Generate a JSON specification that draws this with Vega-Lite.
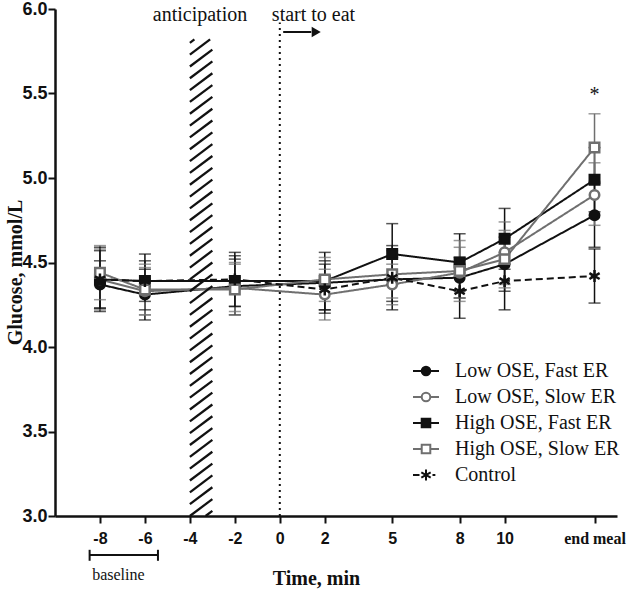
{
  "$schema": "https://vega.github.io/schema/vega-lite/v6.json",
  "width": 562,
  "height": 507,
  "autosize": "none",
  "padding": {"left": 55, "top": 9, "right": 15, "bottom": 73},
  "background": "white",
  "config": {"view": {"stroke": null}, "axis": {"grid": false}},
  "datasets": {
    "glu": [
      {"t": -8, "s": "Low OSE, Fast ER", "m": 4.37, "lo": 4.23, "hi": 4.51},
      {"t": -8, "s": "Low OSE, Slow ER", "m": 4.40, "lo": 4.22, "hi": 4.58},
      {"t": -8, "s": "High OSE, Fast ER", "m": 4.40, "lo": 4.23, "hi": 4.57},
      {"t": -8, "s": "High OSE, Slow ER", "m": 4.44, "lo": 4.28, "hi": 4.60},
      {"t": -8, "s": "Control", "m": 4.40, "lo": 4.21, "hi": 4.59},
      {"t": -6, "s": "Low OSE, Fast ER", "m": 4.31, "lo": 4.16, "hi": 4.46},
      {"t": -6, "s": "Low OSE, Slow ER", "m": 4.33, "lo": 4.19, "hi": 4.47},
      {"t": -6, "s": "High OSE, Fast ER", "m": 4.39, "lo": 4.22, "hi": 4.55},
      {"t": -6, "s": "High OSE, Slow ER", "m": 4.34, "lo": 4.19, "hi": 4.49},
      {"t": -6, "s": "Control", "m": 4.39, "lo": 4.27, "hi": 4.51},
      {"t": -2, "s": "Low OSE, Fast ER", "m": 4.36, "lo": 4.19, "hi": 4.52},
      {"t": -2, "s": "Low OSE, Slow ER", "m": 4.35, "lo": 4.21, "hi": 4.50},
      {"t": -2, "s": "High OSE, Fast ER", "m": 4.39, "lo": 4.24, "hi": 4.54},
      {"t": -2, "s": "High OSE, Slow ER", "m": 4.34, "lo": 4.19, "hi": 4.49},
      {"t": -2, "s": "Control", "m": 4.40, "lo": 4.24, "hi": 4.56},
      {"t": 2, "s": "Low OSE, Fast ER", "m": 4.38, "lo": 4.22, "hi": 4.51},
      {"t": 2, "s": "Low OSE, Slow ER", "m": 4.31, "lo": 4.16, "hi": 4.46},
      {"t": 2, "s": "High OSE, Fast ER", "m": 4.39, "lo": 4.22, "hi": 4.56},
      {"t": 2, "s": "High OSE, Slow ER", "m": 4.40, "lo": 4.27, "hi": 4.53},
      {"t": 2, "s": "Control", "m": 4.34, "lo": 4.20, "hi": 4.49},
      {"t": 5, "s": "Low OSE, Fast ER", "m": 4.40, "lo": 4.27, "hi": 4.53},
      {"t": 5, "s": "Low OSE, Slow ER", "m": 4.37, "lo": 4.25, "hi": 4.49},
      {"t": 5, "s": "High OSE, Fast ER", "m": 4.55, "lo": 4.37, "hi": 4.73},
      {"t": 5, "s": "High OSE, Slow ER", "m": 4.43, "lo": 4.29, "hi": 4.57},
      {"t": 5, "s": "Control", "m": 4.41, "lo": 4.22, "hi": 4.60},
      {"t": 8, "s": "Low OSE, Fast ER", "m": 4.41, "lo": 4.29, "hi": 4.53},
      {"t": 8, "s": "Low OSE, Slow ER", "m": 4.44, "lo": 4.29, "hi": 4.59},
      {"t": 8, "s": "High OSE, Fast ER", "m": 4.50, "lo": 4.33, "hi": 4.67},
      {"t": 8, "s": "High OSE, Slow ER", "m": 4.45, "lo": 4.27, "hi": 4.63},
      {"t": 8, "s": "Control", "m": 4.33, "lo": 4.17, "hi": 4.49},
      {"t": 10, "s": "Low OSE, Fast ER", "m": 4.49, "lo": 4.33, "hi": 4.65},
      {"t": 10, "s": "Low OSE, Slow ER", "m": 4.56, "lo": 4.37, "hi": 4.74},
      {"t": 10, "s": "High OSE, Fast ER", "m": 4.64, "lo": 4.46, "hi": 4.82},
      {"t": 10, "s": "High OSE, Slow ER", "m": 4.52, "lo": 4.35, "hi": 4.69},
      {"t": 10, "s": "Control", "m": 4.39, "lo": 4.22, "hi": 4.56},
      {"t": 14, "s": "Low OSE, Fast ER", "m": 4.78, "lo": 4.59, "hi": 4.97},
      {"t": 14, "s": "Low OSE, Slow ER", "m": 4.90, "lo": 4.72, "hi": 5.09},
      {"t": 14, "s": "High OSE, Fast ER", "m": 4.99, "lo": 4.80, "hi": 5.18},
      {"t": 14, "s": "High OSE, Slow ER", "m": 5.18, "lo": 4.98, "hi": 5.38},
      {"t": 14, "s": "Control", "m": 4.42, "lo": 4.26, "hi": 4.58}
    ],
    "hatch": [
      {"x1": -3.3, "y1": 3.0, "x2": -3, "y2": 3.03},
      {"x1": -4, "y1": 3.00, "x2": -3, "y2": 3.10},
      {"x1": -4, "y1": 3.07, "x2": -3, "y2": 3.17},
      {"x1": -4, "y1": 3.14, "x2": -3, "y2": 3.24},
      {"x1": -4, "y1": 3.21, "x2": -3, "y2": 3.31},
      {"x1": -4, "y1": 3.28, "x2": -3, "y2": 3.38},
      {"x1": -4, "y1": 3.35, "x2": -3, "y2": 3.45},
      {"x1": -4, "y1": 3.42, "x2": -3, "y2": 3.52},
      {"x1": -4, "y1": 3.49, "x2": -3, "y2": 3.59},
      {"x1": -4, "y1": 3.56, "x2": -3, "y2": 3.66},
      {"x1": -4, "y1": 3.63, "x2": -3, "y2": 3.73},
      {"x1": -4, "y1": 3.70, "x2": -3, "y2": 3.80},
      {"x1": -4, "y1": 3.77, "x2": -3, "y2": 3.87},
      {"x1": -4, "y1": 3.84, "x2": -3, "y2": 3.94},
      {"x1": -4, "y1": 3.91, "x2": -3, "y2": 4.01},
      {"x1": -4, "y1": 3.98, "x2": -3, "y2": 4.08},
      {"x1": -4, "y1": 4.05, "x2": -3, "y2": 4.15},
      {"x1": -4, "y1": 4.12, "x2": -3, "y2": 4.22},
      {"x1": -4, "y1": 4.19, "x2": -3, "y2": 4.29},
      {"x1": -4, "y1": 4.26, "x2": -3, "y2": 4.36},
      {"x1": -4, "y1": 4.33, "x2": -3, "y2": 4.43},
      {"x1": -4, "y1": 4.40, "x2": -3, "y2": 4.50},
      {"x1": -4, "y1": 4.47, "x2": -3, "y2": 4.57},
      {"x1": -4, "y1": 4.54, "x2": -3, "y2": 4.64},
      {"x1": -4, "y1": 4.61, "x2": -3, "y2": 4.71},
      {"x1": -4, "y1": 4.68, "x2": -3, "y2": 4.78},
      {"x1": -4, "y1": 4.75, "x2": -3, "y2": 4.85},
      {"x1": -4, "y1": 4.82, "x2": -3, "y2": 4.92},
      {"x1": -4, "y1": 4.89, "x2": -3, "y2": 4.99},
      {"x1": -4, "y1": 4.96, "x2": -3, "y2": 5.06},
      {"x1": -4, "y1": 5.03, "x2": -3, "y2": 5.13},
      {"x1": -4, "y1": 5.10, "x2": -3, "y2": 5.20},
      {"x1": -4, "y1": 5.17, "x2": -3, "y2": 5.27},
      {"x1": -4, "y1": 5.24, "x2": -3, "y2": 5.34},
      {"x1": -4, "y1": 5.31, "x2": -3, "y2": 5.41},
      {"x1": -4, "y1": 5.38, "x2": -3, "y2": 5.48},
      {"x1": -4, "y1": 5.45, "x2": -3, "y2": 5.55},
      {"x1": -4, "y1": 5.52, "x2": -3, "y2": 5.62},
      {"x1": -4, "y1": 5.59, "x2": -3, "y2": 5.69},
      {"x1": -4, "y1": 5.66, "x2": -3, "y2": 5.76},
      {"x1": -4, "y1": 5.73, "x2": -3.1, "y2": 5.82},
      {"x1": -4, "y1": 5.80, "x2": -3.8, "y2": 5.82}
    ],
    "bracket": [
      {"x1": -8.46, "x2": -5.42, "y1": 2.769, "y2": 2.769},
      {"x1": -8.46, "x2": -8.46, "y1": 2.735, "y2": 2.80},
      {"x1": -5.42, "x2": -5.42, "y1": 2.735, "y2": 2.80},
      {"x1": 0.15, "x2": 1.4, "y1": 5.864, "y2": 5.864}
    ],
    "dotted": [{"x": 0, "y1": 3.0, "y2": 5.92}],
    "arrowhead": [{"x": 1.62, "y": 5.864}],
    "notes": [
      {"x": -3.55, "y": 5.962, "txt": "anticipation"},
      {"x": 1.5, "y": 5.962, "txt": "start to eat"},
      {"x": 14, "y": 5.49, "txt": "*"}
    ],
    "small": [{"x": -7.18, "y": 2.651, "txt": "baseline"}]
  },
  "layer": [
    {
      "data": {"name": "glu"},
      "mark": {"type": "line", "strokeWidth": 2},
      "encoding": {
        "x": {"field": "t", "type": "quantitative", "scale": {"domain": [-10, 15], "nice": false, "zero": false},
          "axis": {"values": [-8, -6, -4, -2, 0, 2, 5, 8, 10, 14],
            "labelExpr": "datum.value == 14 ? 'end meal' : '' + datum.value",
            "domainColor": "#111", "domainWidth": 2.5, "tickColor": "#111", "tickWidth": 2, "tickSize": 7,
            "labelFont": {"condition": {"test": "datum.value == 14", "value": "Liberation Serif"}, "value": "Liberation Sans"},
            "labelFontSize": {"condition": {"test": "datum.value == 14", "value": 16}, "value": 16},
            "labelFontWeight": "bold", "labelColor": "#111", "labelPadding": 7,
            "title": "Time, min", "titleFont": "Liberation Serif", "titleFontWeight": "bold", "titleFontSize": 20, "titleColor": "#111",
            "titleX": 261, "titleY": 62, "titleAlign": "center", "titleBaseline": "middle"}},
        "y": {"field": "m", "type": "quantitative", "scale": {"domain": [3, 6], "nice": false, "zero": false},
          "axis": {"values": [3, 3.5, 4, 4.5, 5, 5.5, 6], "format": ".1f",
            "domainColor": "#111", "domainWidth": 2.5, "tickColor": "#111", "tickWidth": 2, "tickSize": 7,
            "labelFont": "Liberation Sans", "labelFontSize": 18, "labelFontWeight": "bold", "labelColor": "#111", "labelPadding": 1,
            "title": "Glucose, mmol/L", "titleFont": "Liberation Serif", "titleFontWeight": "bold", "titleFontSize": 20, "titleColor": "#111",
            "titleX": -40, "titleY": 263, "titleAlign": "center", "titleBaseline": "middle"}},
        "color": {"field": "s", "type": "nominal", "legend": null, "scale": {"domain": ["Low OSE, Fast ER", "Low OSE, Slow ER", "High OSE, Fast ER", "High OSE, Slow ER", "Control"], "range": ["#111111", "#6f6f6f", "#111111", "#6f6f6f", "#111111"]}},
        "strokeDash": {"field": "s", "type": "nominal", "legend": null, "scale": {"domain": ["Low OSE, Fast ER", "Low OSE, Slow ER", "High OSE, Fast ER", "High OSE, Slow ER", "Control"], "range": [[1, 0], [1, 0], [1, 0], [1, 0], [7, 4]]}}
      }
    },
    {
      "data": {"name": "hatch"},
      "mark": {"type": "rule", "color": "#111", "strokeWidth": 2.3},
      "encoding": {
        "x": {"field": "x1", "type": "quantitative", "scale": {"domain": [-10, 15], "nice": false, "zero": false}},
        "x2": {"field": "x2"},
        "y": {"field": "y1", "type": "quantitative", "scale": {"domain": [3, 6], "nice": false, "zero": false}},
        "y2": {"field": "y2"}
      }
    },
    {
      "data": {"name": "dotted"},
      "mark": {"type": "rule", "color": "#111", "strokeWidth": 2, "strokeDash": [2, 4]},
      "encoding": {
        "x": {"field": "x", "type": "quantitative", "scale": {"domain": [-10, 15], "nice": false, "zero": false}},
        "y": {"field": "y1", "type": "quantitative", "scale": {"domain": [3, 6], "nice": false, "zero": false}},
        "y2": {"field": "y2"}
      }
    },
    {
      "data": {"name": "bracket"},
      "mark": {"type": "rule", "color": "#111", "strokeWidth": 2},
      "encoding": {
        "x": {"field": "x1", "type": "quantitative", "scale": {"domain": [-10, 15], "nice": false, "zero": false}},
        "x2": {"field": "x2"},
        "y": {"field": "y1", "type": "quantitative", "scale": {"domain": [3, 6], "nice": false, "zero": false}},
        "y2": {"field": "y2"}
      }
    },
    {
      "data": {"name": "arrowhead"},
      "mark": {"type": "point", "shape": "triangle-right", "filled": true, "color": "#111", "size": 110, "opacity": 1},
      "encoding": {
        "x": {"field": "x", "type": "quantitative", "scale": {"domain": [-10, 15], "nice": false, "zero": false}},
        "y": {"field": "y", "type": "quantitative", "scale": {"domain": [3, 6], "nice": false, "zero": false}}
      }
    },
    {
      "data": {"name": "notes"},
      "mark": {"type": "text", "font": "Liberation Serif", "fontSize": 20, "color": "#111", "align": "center", "baseline": "middle"},
      "encoding": {
        "x": {"field": "x", "type": "quantitative", "scale": {"domain": [-10, 15], "nice": false, "zero": false}},
        "y": {"field": "y", "type": "quantitative", "scale": {"domain": [3, 6], "nice": false, "zero": false}},
        "text": {"field": "txt"}
      }
    },
    {
      "data": {"name": "small"},
      "mark": {"type": "text", "font": "Liberation Serif", "fontSize": 16, "color": "#111", "align": "center", "baseline": "middle"},
      "encoding": {
        "x": {"field": "x", "type": "quantitative", "scale": {"domain": [-10, 15], "nice": false, "zero": false}},
        "y": {"field": "y", "type": "quantitative", "scale": {"domain": [3, 6], "nice": false, "zero": false}},
        "text": {"field": "txt"}
      }
    },
    {
      "data": {"name": "glu"},
      "mark": {"type": "rule", "strokeWidth": 1.5},
      "encoding": {
        "x": {"field": "t", "type": "quantitative", "scale": {"domain": [-10, 15], "nice": false, "zero": false}},
        "y": {"field": "lo", "type": "quantitative", "scale": {"domain": [3, 6], "nice": false, "zero": false}},
        "y2": {"field": "hi"},
        "color": {"field": "s", "type": "nominal", "legend": null, "scale": {"domain": ["Low OSE, Fast ER", "Low OSE, Slow ER", "High OSE, Fast ER", "High OSE, Slow ER", "Control"], "range": ["#111111", "#6f6f6f", "#111111", "#6f6f6f", "#111111"]}}
      }
    },
    {
      "data": {"name": "glu"},
      "mark": {"type": "tick", "orient": "horizontal", "size": 12, "thickness": 1.5},
      "encoding": {
        "x": {"field": "t", "type": "quantitative", "scale": {"domain": [-10, 15], "nice": false, "zero": false}},
        "y": {"field": "lo", "type": "quantitative", "scale": {"domain": [3, 6], "nice": false, "zero": false}},
        "color": {"field": "s", "type": "nominal", "legend": null, "scale": {"domain": ["Low OSE, Fast ER", "Low OSE, Slow ER", "High OSE, Fast ER", "High OSE, Slow ER", "Control"], "range": ["#111111", "#6f6f6f", "#111111", "#6f6f6f", "#111111"]}}
      }
    },
    {
      "data": {"name": "glu"},
      "mark": {"type": "tick", "orient": "horizontal", "size": 12, "thickness": 1.5},
      "encoding": {
        "x": {"field": "t", "type": "quantitative", "scale": {"domain": [-10, 15], "nice": false, "zero": false}},
        "y": {"field": "hi", "type": "quantitative", "scale": {"domain": [3, 6], "nice": false, "zero": false}},
        "color": {"field": "s", "type": "nominal", "legend": null, "scale": {"domain": ["Low OSE, Fast ER", "Low OSE, Slow ER", "High OSE, Fast ER", "High OSE, Slow ER", "Control"], "range": ["#111111", "#6f6f6f", "#111111", "#6f6f6f", "#111111"]}}
      }
    },
    {
      "data": {"name": "glu"},
      "mark": {"type": "point", "size": 90, "strokeWidth": 2.5, "opacity": 1},
      "encoding": {
        "x": {"field": "t", "type": "quantitative", "scale": {"domain": [-10, 15], "nice": false, "zero": false}},
        "y": {"field": "m", "type": "quantitative", "scale": {"domain": [3, 6], "nice": false, "zero": false}},
        "shape": {"field": "s", "type": "nominal", "legend": null, "scale": {"domain": ["Low OSE, Fast ER", "Low OSE, Slow ER", "High OSE, Fast ER", "High OSE, Slow ER", "Control"], "range": ["circle", "circle", "square", "square", "M0,-1.25V1.25M-1.08,-0.62L1.08,0.62M-1.08,0.62L1.08,-0.62"]}},
        "stroke": {"field": "s", "type": "nominal", "legend": null, "scale": {"domain": ["Low OSE, Fast ER", "Low OSE, Slow ER", "High OSE, Fast ER", "High OSE, Slow ER", "Control"], "range": ["#111111", "#6f6f6f", "#111111", "#6f6f6f", "#111111"]}},
        "fill": {"field": "s", "type": "nominal", "legend": null, "scale": {"domain": ["Low OSE, Fast ER", "Low OSE, Slow ER", "High OSE, Fast ER", "High OSE, Slow ER", "Control"], "range": ["#111111", "#ffffff", "#111111", "#ffffff", "#111111"]}}
      }
    },
    {
      "data": {"name": "glu"},
      "mark": {"type": "point", "size": 90, "strokeWidth": 2, "opacity": 0},
      "encoding": {
        "x": {"field": "t", "type": "quantitative", "scale": {"domain": [-10, 15], "nice": false, "zero": false}},
        "y": {"field": "m", "type": "quantitative", "scale": {"domain": [3, 6], "nice": false, "zero": false}},
        "shape": {"field": "s", "type": "nominal",
          "legend": {"title": null, "orient": "none", "legendX": 357, "legendY": 348, "padding": 0, "labelFont": "Liberation Serif", "labelFontSize": 20, "labelColor": "#111", "labelOffset": 15, "rowPadding": 2, "symbolSize": 676, "symbolStrokeWidth": 2, "symbolOpacity": 1, "labelLimit": 300},
          "scale": {"domain": ["Low OSE, Fast ER", "Low OSE, Slow ER", "High OSE, Fast ER", "High OSE, Slow ER", "Control"],
            "range": [
              "M-1,0H-0.33M0.33,0H1M-0.33,0A0.33,0.33 0 1,0 0.33,0A0.33,0.33 0 1,0 -0.33,0Z",
              "M-1,0H-0.33M0.33,0H1M-0.33,0A0.33,0.33 0 1,0 0.33,0A0.33,0.33 0 1,0 -0.33,0Z",
              "M-1,0H-0.33M0.33,0H1M-0.33,-0.33H0.33V0.33H-0.33Z",
              "M-1,0H-0.33M0.33,0H1M-0.33,-0.33H0.33V0.33H-0.33Z",
              "M-1,0H-0.5M0.5,0H0.72M0,-0.42V0.42M-0.36,-0.21L0.36,0.21M-0.36,0.21L0.36,-0.21"
            ]}},
        "stroke": {"field": "s", "type": "nominal",
          "legend": {"title": null, "orient": "none", "legendX": 357, "legendY": 348, "padding": 0, "labelFont": "Liberation Serif", "labelFontSize": 20, "labelColor": "#111", "labelOffset": 15, "rowPadding": 2, "symbolSize": 676, "symbolStrokeWidth": 2, "symbolOpacity": 1, "labelLimit": 300},
          "scale": {"domain": ["Low OSE, Fast ER", "Low OSE, Slow ER", "High OSE, Fast ER", "High OSE, Slow ER", "Control"], "range": ["#111111", "#6f6f6f", "#111111", "#6f6f6f", "#111111"]}},
        "fill": {"field": "s", "type": "nominal",
          "legend": {"title": null, "orient": "none", "legendX": 357, "legendY": 348, "padding": 0, "labelFont": "Liberation Serif", "labelFontSize": 20, "labelColor": "#111", "labelOffset": 15, "rowPadding": 2, "symbolSize": 676, "symbolStrokeWidth": 2, "symbolOpacity": 1, "labelLimit": 300},
          "scale": {"domain": ["Low OSE, Fast ER", "Low OSE, Slow ER", "High OSE, Fast ER", "High OSE, Slow ER", "Control"], "range": ["#111111", "#ffffff", "#111111", "#ffffff", "#111111"]}}
      }
    }
  ],
  "resolve": {"scale": {"shape": "independent", "fill": "independent", "stroke": "independent", "color": "independent", "strokeDash": "independent"}}
}
